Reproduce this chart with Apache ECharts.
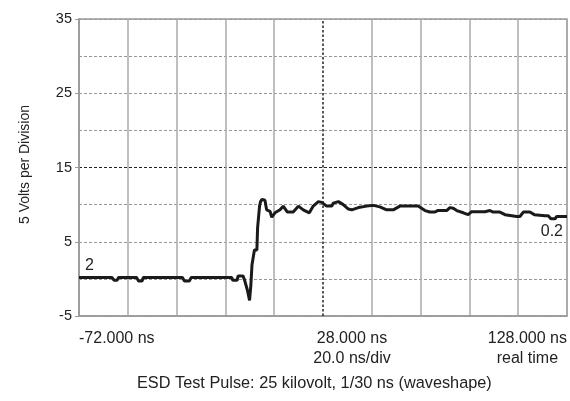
<!DOCTYPE html>
<html>
<head>
<meta charset="utf-8">
<script src="https://cdn.jsdelivr.net/npm/echarts@6/dist/echarts.min.js"></script>
<style>
html,body{margin:0;padding:0;background:#fff;}
#chart{width:570px;height:401px;}
</style>
</head>
<body>
<div id="chart"></div>
<script>
// Time in ns
var timeNs = [-72, -58.5, -57.6, -56.4, -55.8, -48.4, -47.6, -46.2, -45.6, -29.6, -28.8, -26.8, -26.0,
  -9.4, -9.0, -7.2, -6.8, -4.8, -4.2, -3.0, -2.1, -1.6, -1.1, -0.4, -0.1, 0.9, 1.2, 1.8, 2.0, 2.4, 3.0,
  4.2, 4.9, 6.3, 7.0, 8.3, 10.4, 11.7, 13.4, 15.8, 17.9, 19.9, 22.4, 24.0, 26.1, 27.5, 29.5, 31.6, 32.2,
  34.3, 36.3, 38.4, 39.8, 42.5, 45.9, 48.6, 51.3, 54.1, 56.8, 59.5, 67.0, 69.8, 71.8, 73.9, 75.0, 78.7,
  80.0, 81.4, 82.8, 85.5, 87.5, 88.9, 94.4, 96.4, 97.8, 100.5, 102.6, 107.4, 108.7, 110.1, 112.8, 114.6,
  119.0, 120.3, 121.4, 123.1, 123.8, 128];
// Volts
var volts = [0.2, 0.2, -0.2, -0.2, 0.2, 0.2, -0.3, -0.3, 0.2, 0.2, -0.3, -0.3, 0.2,
  0.2, -0.2, -0.2, 0.4, 0.4, -0.1, -1.5, -2.9, -1.0, 1.9, 1.9, 3.9, 3.9, 6.9, 6.9, 9.8, 10.4, 10.7,
  10.6, 9.3, 9.1, 8.3, 8.9, 9.3, 9.8, 9.0, 9.0, 9.8, 9.3, 8.9, 9.8, 10.4, 10.3, 9.8, 9.8, 10.2,
  10.4, 10.0, 9.4, 9.3, 9.6, 9.8, 9.9, 9.7, 9.3, 9.3, 9.8, 9.8, 9.2, 9.0, 9.0, 9.2, 9.2,
  9.6, 9.5, 9.2, 8.9, 8.65, 9.05, 9.05, 9.2, 9.0, 9.0, 8.65, 8.4, 8.4, 9.0, 9.0, 8.65,
  8.5, 8.5, 8.1, 8.1, 8.4, 8.4];

var xTickValues = [-72, 28, 128];
var xTickLabels = ['-72.000 ns', '{m|28.000 ns}\n{m|20.0 ns/div}', '{c|128.000 ns}\n{c|real time}'];
var yTickValues = [-5, 5, 15, 25, 35];
var yAxisName = '5 Volts per Division';
var xTitle = 'ESD Test Pulse: 25 kilovolt, 1/30 ns (waveshape)';
var startNote = '2';
var endNote = '0.2';

var FONT = "'Liberation Sans', Arial, sans-serif";
var TXT = '#222';

var chart = echarts.init(document.getElementById('chart'), null, {renderer: 'canvas'});

var xSplitColors = [];
for (var i = 0; i < 11; i++) xSplitColors.push(i === 5 ? 'rgba(0,0,0,0)' : '#aaaaaa');

var data = timeNs.map(function (t, i) { return [t, volts[i]]; });

var option = {
  backgroundColor: '#fff',
  animation: false,
  title: {
    text: xTitle,
    left: 137, top: 376, padding: 0,
    textStyle: {fontFamily: FONT, fontSize: 16.3, fontWeight: 'normal', color: TXT}
  },
  grid: {
    left: 79, right: 3, top: 19, bottom: 85,
    show: true, borderColor: '#999', borderWidth: 1.5, backgroundColor: 'transparent'
  },
  xAxis: {
    type: 'value', min: -72, max: 128, interval: 20,
    axisLine: {show: true, onZero: false, lineStyle: {color: '#999', width: 1.5}},
    axisTick: {show: false},
    splitLine: {show: true, lineStyle: {color: xSplitColors, width: 1.5, type: 'solid'}},
    axisLabel: {
      show: true, margin: 13, fontFamily: FONT, fontSize: 16, color: TXT, lineHeight: 20,
      verticalAlign: 'top',
      alignMinLabel: 'left', alignMaxLabel: 'right',
      showMinLabel: true, showMaxLabel: true, hideOverlap: false,
      formatter: function (v) {
        var idx = xTickValues.indexOf(Math.round(v));
        return idx >= 0 ? xTickLabels[idx] : '';
      },
      rich: {
        m: {fontFamily: FONT, fontSize: 16, color: TXT, lineHeight: 20, align: 'center', padding: [0, 0, 0, 58]},
        c: {fontFamily: FONT, fontSize: 16, color: TXT, lineHeight: 20, align: 'center'}
      }
    }
  },
  yAxis: {
    type: 'value', min: -5, max: 35, interval: 10,
    name: yAxisName, nameLocation: 'middle', nameGap: 47, nameRotate: 90,
    nameTextStyle: {fontFamily: FONT, fontSize: 14, color: TXT, padding: [0, 0, 0, 6]},
    axisLine: {show: true, onZero: false, lineStyle: {color: '#999', width: 1.5}},
    axisTick: {show: true, length: 4, lineStyle: {color: '#999', width: 1}},
    minorTick: {show: false, splitNumber: 2},
    minorSplitLine: {show: true, lineStyle: {color: '#999', width: 1, type: [3, 2]}},
    splitLine: {show: true, lineStyle: {color: ['#999', '#999', '#222', '#999', '#999'], width: 1, type: [3, 2]}},
    axisLabel: {
      margin: 7, fontFamily: FONT, fontSize: 14.5, color: TXT,
      formatter: function (v) { return yTickValues.indexOf(Math.round(v)) >= 0 ? String(Math.round(v)) : ''; }
    }
  },
  series: [
    {
      type: 'line', z: 1, data: [], silent: true,
      markLine: {
        silent: true, symbol: 'none', label: {show: false},
        lineStyle: {color: '#222', width: 1.5, type: [2.5, 2]},
        data: [{xAxis: 28}]
      }
    },
    {
      type: 'line', z: 3, data: data, showSymbol: false, symbol: 'none',
      lineStyle: {color: '#1a1a1a', width: 3},
      markPoint: {
        symbol: 'circle', symbolSize: 0,
        label: {show: true, fontFamily: FONT, fontSize: 16, color: TXT},
        data: [
          {coord: [timeNs[0], volts[0]], value: startNote,
           label: {formatter: startNote, position: 'right', offset: [1, -12]}},
          {coord: [timeNs[timeNs.length - 1], volts[volts.length - 1]], value: endNote,
           label: {formatter: endNote, position: 'left', offset: [1, 15]}}
        ]
      }
    }
  ]
};
chart.setOption(option);
</script>
</body>
</html>
